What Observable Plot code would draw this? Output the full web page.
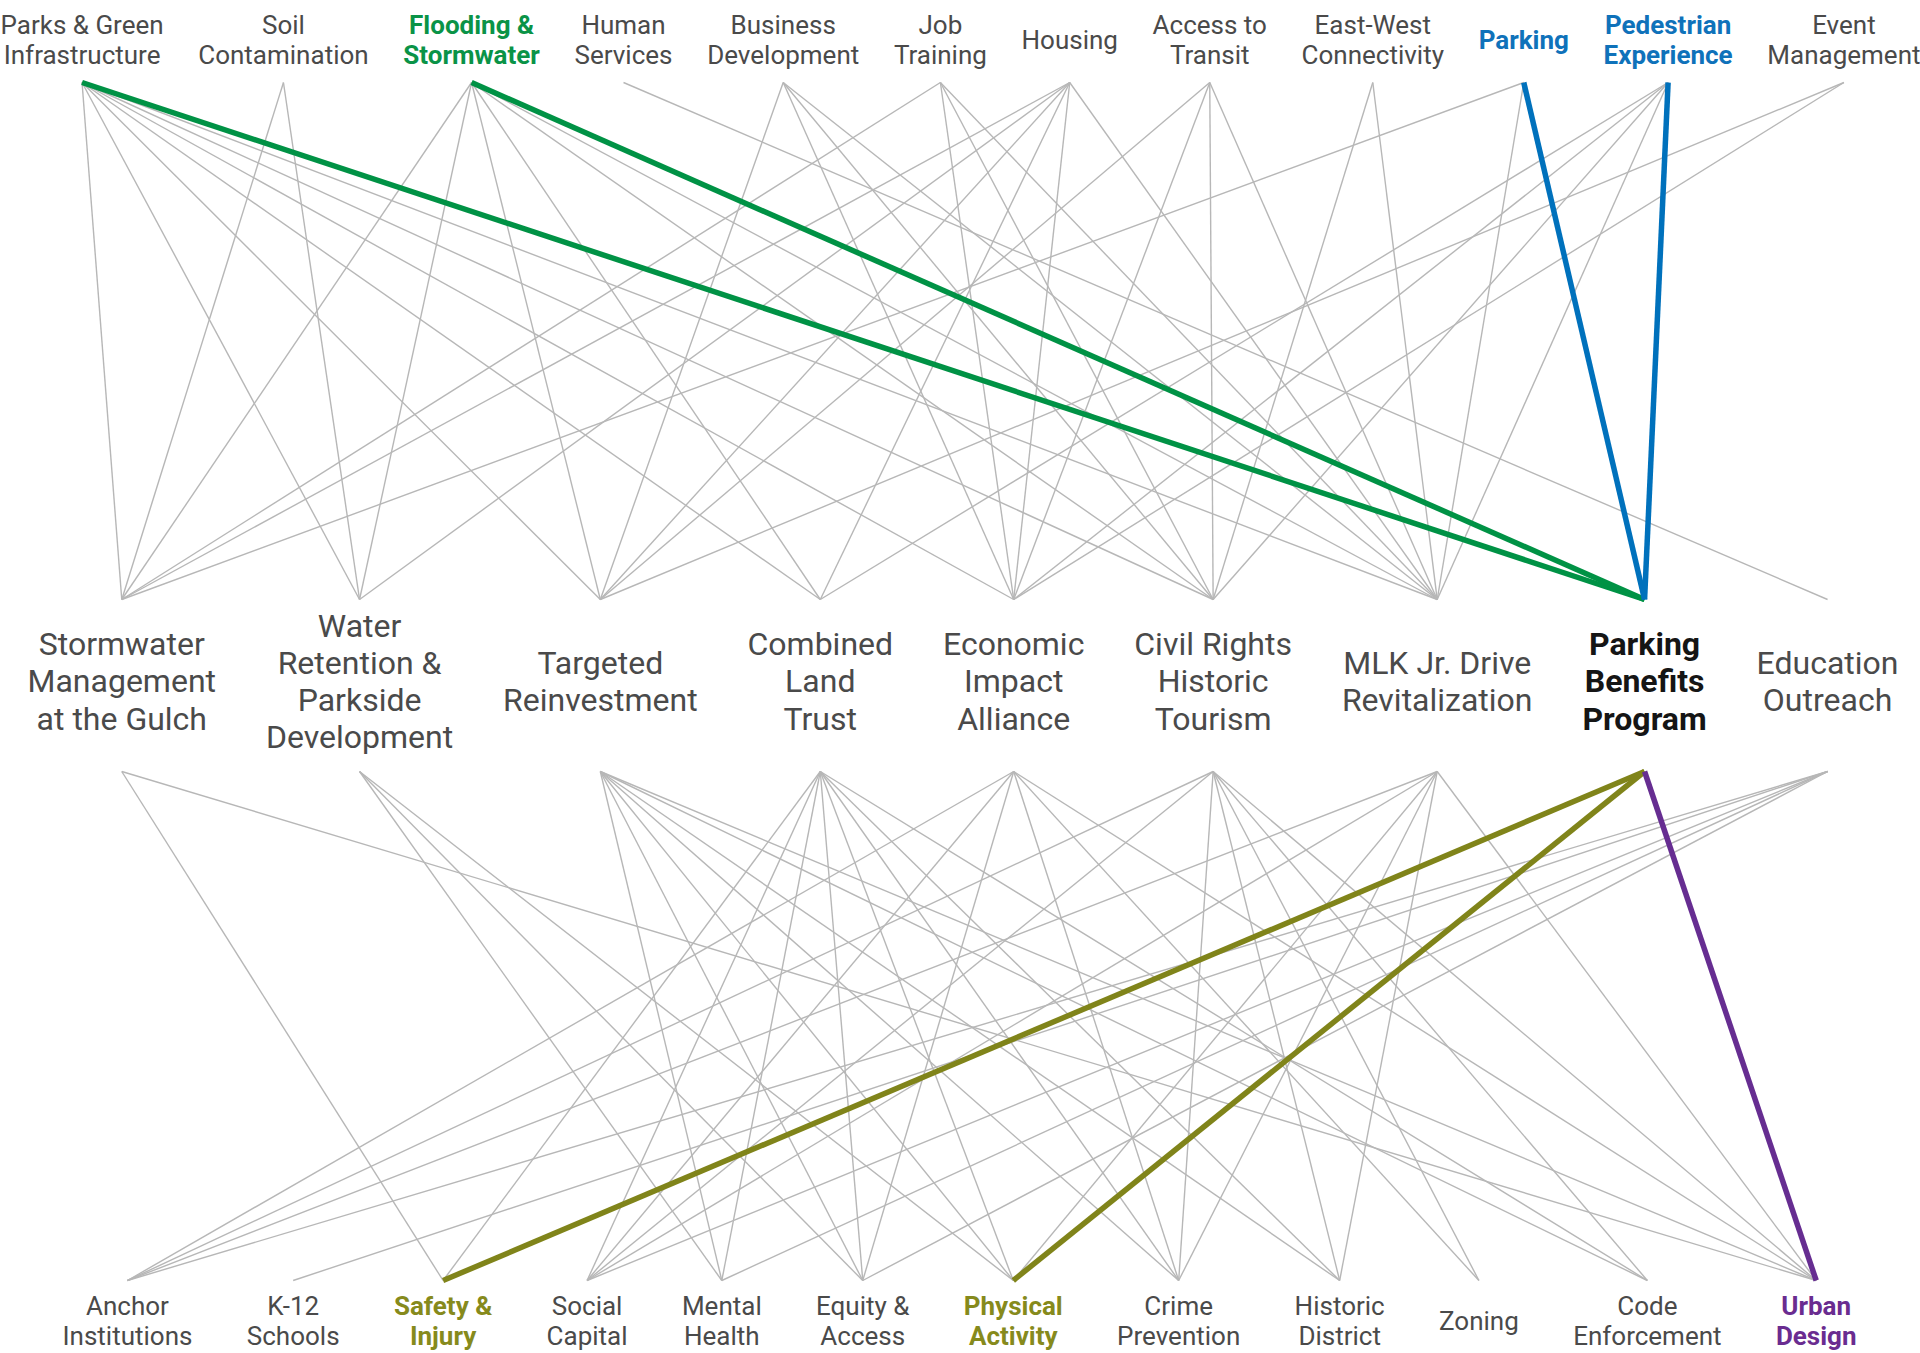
<!DOCTYPE html>
<html>
<head>
<meta charset="utf-8">
<script src="https://cdn.jsdelivr.net/npm/d3@7"></script>
<script src="https://cdn.jsdelivr.net/npm/@observablehq/plot@0.6"></script>
<style>
  html, body { margin: 0; padding: 0; background: #fff; overflow: hidden; }
  #chart svg { display: block; }
</style>
</head>
<body>
<div id="chart"></div>
<script>
// ---------- DATA ----------
const topIds = ["parks","soil","flooding","human","business","job","housing","access","eastwest","parking","pedestrian","event"];
const topLabels = ["Parks & Green\nInfrastructure","Soil\nContamination","Flooding &\nStormwater","Human\nServices","Business\nDevelopment","Job\nTraining","Housing","Access to\nTransit","East-West\nConnectivity","Parking","Pedestrian\nExperience","Event\nManagement"];

const midIds = ["storm","water","targeted","combined","economic","civil","mlk","pbp","edu"];
const midLabels = ["Stormwater\nManagement\nat the Gulch","Water\nRetention &\nParkside\nDevelopment","Targeted\nReinvestment","Combined\nLand\nTrust","Economic\nImpact\nAlliance","Civil Rights\nHistoric\nTourism","MLK Jr. Drive\nRevitalization","Parking\nBenefits\nProgram","Education\nOutreach"];

const botIds = ["anchor","k12","safety","social","mental","equity","physical","crime","historic","zoning","code","urban"];
const botLabels = ["Anchor\nInstitutions","K-12\nSchools","Safety &\nInjury","Social\nCapital","Mental\nHealth","Equity &\nAccess","Physical\nActivity","Crime\nPrevention","Historic\nDistrict","Zoning","Code\nEnforcement","Urban\nDesign"];

// issues -> programs (gray)
const upperLinks = [
  ["parks","storm"],["parks","water"],["parks","targeted"],["parks","combined"],["parks","economic"],["parks","civil"],["parks","mlk"],
  ["soil","storm"],["soil","water"],
  ["flooding","storm"],["flooding","water"],["flooding","targeted"],["flooding","combined"],["flooding","civil"],["flooding","mlk"],
  ["human","edu"],
  ["business","targeted"],["business","economic"],["business","civil"],["business","mlk"],
  ["job","storm"],["job","economic"],["job","civil"],["job","mlk"],
  ["housing","storm"],["housing","water"],["housing","targeted"],["housing","combined"],["housing","economic"],["housing","mlk"],
  ["access","targeted"],["access","economic"],["access","civil"],["access","mlk"],
  ["eastwest","civil"],["eastwest","mlk"],
  ["parking","storm"],["parking","mlk"],
  ["pedestrian","combined"],["pedestrian","economic"],["pedestrian","civil"],["pedestrian","mlk"],
  ["event","targeted"],["event","economic"]
];

// programs -> outcomes (gray)
const lowerLinks = [
  ["storm","safety"],["storm","urban"],
  ["water","mental"],["water","equity"],["water","physical"],
  ["targeted","mental"],["targeted","equity"],["targeted","physical"],["targeted","crime"],["targeted","historic"],["targeted","code"],["targeted","urban"],
  ["combined","safety"],["combined","social"],["combined","mental"],["combined","equity"],["combined","physical"],["combined","crime"],["combined","historic"],["combined","code"],
  ["economic","anchor"],["economic","social"],["economic","equity"],["economic","crime"],["economic","zoning"],["economic","urban"],
  ["civil","anchor"],["civil","social"],["civil","crime"],["civil","historic"],["civil","zoning"],["civil","code"],["civil","urban"],
  ["mlk","anchor"],["mlk","social"],["mlk","physical"],["mlk","crime"],["mlk","historic"],["mlk","urban"],
  ["edu","anchor"],["edu","k12"],["edu","social"],["edu","mental"],["edu","equity"]
];

// highlighted paths through the Parking Benefits Program
const greenLinks = [["parks","pbp"],["flooding","pbp"]];
const blueLinks = [["parking","pbp"],["pedestrian","pbp"]];
const oliveLinks = [["pbp","safety"],["pbp","physical"]];
const purpleLinks = [["pbp","urban"]];

const greenLabels = ["flooding"];
const blueLabels = ["parking","pedestrian"];
const oliveLabels = ["safety","physical"];
const purpleLabels = ["urban"];
const blackLabels = ["pbp"];

// ---------- STYLE / LAYOUT ----------
const style = {
  font: "Roboto",
  gray: "#b7b7b7", text: "#4a4a4a",
  green: "#009245", blue: "#0071bc", olive: "#80841a", purple: "#662d91", black: "#151515",
  greenText: "#0a9347", blueText: "#0f72ba", oliveText: "#868a1c", purpleText: "#6a2c90"
};
const layout = {
  W: 1920, H: 1353,
  top: {size: 26, lh: 1.13, labelY: 39, nodeY: 82, left: 0, right: 1920},
  mid: {size: 32, lh: 1.165, labelY: 680, topY: 599, botY: 771, left: 27, right: 1898},
  bot: {size: 26, lh: 1.13, labelY: 1320, nodeY: 1280, left: 62, right: 1856}
};

const boldSet = new Set([...greenLabels, ...blueLabels, ...oliveLabels, ...purpleLabels, ...blackLabels]);
const colorOf = id =>
  greenLabels.includes(id) ? style.greenText :
  blueLabels.includes(id) ? style.blueText :
  oliveLabels.includes(id) ? style.oliveText :
  purpleLabels.includes(id) ? style.purpleText :
  blackLabels.includes(id) ? style.black : style.text;

const ctx = document.createElement("canvas").getContext("2d");
function labelWidth(label, size, bold) {
  ctx.font = `${bold ? 700 : 400} ${size}px ${style.font}`;
  return d3.max(label.split("\n"), s => ctx.measureText(s).width);
}
// nodes are centred on their labels, labels packed with equal gaps across the row
function layoutRow(ids, labels, cfg) {
  const w = labels.map((l, i) => labelWidth(l, cfg.size, boldSet.has(ids[i])));
  const gap = (cfg.right - cfg.left - d3.sum(w)) / (ids.length - 1);
  const pos = new Map();
  let x = cfg.left;
  ids.forEach((id, i) => { pos.set(id, x + w[i] / 2); x += w[i] + gap; });
  return pos;
}
const topX = layoutRow(topIds, topLabels, layout.top);
const midX = layoutRow(midIds, midLabels, layout.mid);
const botX = layoutRow(botIds, botLabels, layout.bot);

const upperLink = ([s, t], color) => ({x1: topX.get(s), y1: layout.top.nodeY, x2: midX.get(t), y2: layout.mid.topY, color});
const lowerLink = ([s, t], color) => ({x1: midX.get(s), y1: layout.mid.botY, x2: botX.get(t), y2: layout.bot.nodeY, color});

const grayLinks = [
  ...upperLinks.map(l => upperLink(l, style.gray)),
  ...lowerLinks.map(l => lowerLink(l, style.gray))
];
const colorLinks = [
  ...greenLinks.map(l => upperLink(l, style.green)),
  ...blueLinks.map(l => upperLink(l, style.blue)),
  ...oliveLinks.map(l => lowerLink(l, style.olive)),
  ...purpleLinks.map(l => lowerLink(l, style.purple))
];

const nodesOf = (ids, labels, pos, y) => ids.map((id, i) => ({id, label: labels[i], x: pos.get(id), y, color: colorOf(id), bold: boldSet.has(id)}));
const topNodes = nodesOf(topIds, topLabels, topX, layout.top.labelY);
const midNodes = nodesOf(midIds, midLabels, midX, layout.mid.labelY);
const botNodes = nodesOf(botIds, botLabels, botX, layout.bot.labelY);

function textMarks(nodes, cfg) {
  const common = {x: "x", y: "y", text: "label", fill: "color", fontSize: cfg.size, lineHeight: cfg.lh,
    lineAnchor: "middle", textAnchor: "middle", fontFamily: style.font};
  return [
    Plot.text(nodes.filter(d => !d.bold), {...common, fontWeight: 400}),
    Plot.text(nodes.filter(d => d.bold), {...common, fontWeight: 700})
  ];
}

const chart = Plot.plot({
  width: layout.W,
  height: layout.H,
  margin: 0,
  x: {domain: [0, layout.W], range: [0, layout.W], axis: null},
  y: {domain: [0, layout.H], range: [0, layout.H], axis: null},
  color: {type: "identity"},
  style: {background: "#fff", fontFamily: style.font},
  marks: [
    Plot.link(grayLinks, {x1: "x1", y1: "y1", x2: "x2", y2: "y2", stroke: "color", strokeWidth: 1.4}),
    Plot.link(colorLinks, {x1: "x1", y1: "y1", x2: "x2", y2: "y2", stroke: "color", strokeWidth: 5.5}),
    ...textMarks(topNodes, layout.top),
    ...textMarks(midNodes, layout.mid),
    ...textMarks(botNodes, layout.bot)
  ]
});
document.getElementById("chart").append(chart);
</script>
</body>
</html>
